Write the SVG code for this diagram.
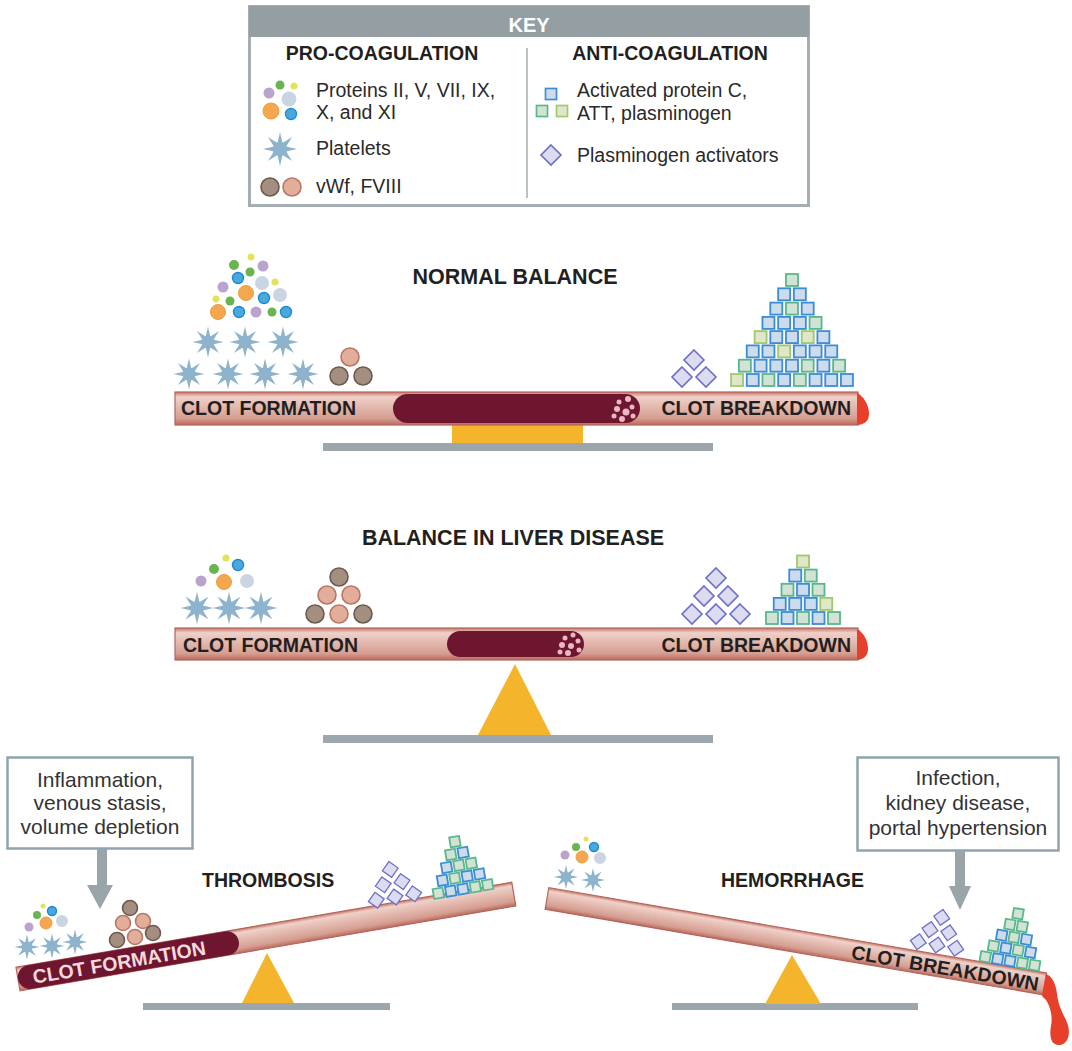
<svg xmlns="http://www.w3.org/2000/svg" width="1072" height="1051" viewBox="0 0 1072 1051">
<style>
text{font-family:"Liberation Sans",Arial,sans-serif;fill:#231f20}
.h{font-weight:bold;font-size:19.5px}
.t{font-size:19.5px;fill:#2a2a2a}
.bx{font-size:21px;fill:#333;text-anchor:middle}
.ttl{font-weight:bold;font-size:21.5px;text-anchor:middle}
.dy{fill:#e4e25a}
.dg{fill:#6ab44f}
.dp{fill:#bba3d0}
.db{fill:#4aa8df;stroke:#1e8bd0;stroke-width:1.4}
.do{fill:#f4a74f;stroke:#f09a3c;stroke-width:1}
.dl{fill:#c9d5e3}
.pl{fill:#8eb3cc}
.cd{fill:#a48e7f;stroke:#6c5a4d;stroke-width:1.6}
.cp{fill:#e3ad9c;stroke:#b87763;stroke-width:1.6}
.b{fill:#cddbea;stroke:#3a8dd7;stroke-width:1.8}
.g{fill:#d2e2d4;stroke:#58b88c;stroke-width:1.8}
.y{fill:#dfe6c9;stroke:#9fca6c;stroke-width:1.8}
.dm{fill:#dcdcf1;stroke:#6b70c6;stroke-width:1.6}
.beam{fill:url(#tube);stroke:#b5645a;stroke-width:1.2}
.clot{fill:#6e1530}
.cdot{fill:#e9b9c1}
.tip{fill:#e6402b}
.base{fill:#f4b52c}
.gnd{fill:#9ba7ac}
.box{fill:#fff;stroke:#8fa4ad;stroke-width:2.5}
.arr{fill:#9aa5aa}
</style>
<defs>
<linearGradient id="tube" x1="0" y1="0" x2="0" y2="1">
<stop offset="0" stop-color="#c4766a"/>
<stop offset="0.15" stop-color="#efd1c9"/>
<stop offset="0.4" stop-color="#e5bdb3"/>
<stop offset="0.8" stop-color="#d59e91"/>
<stop offset="1" stop-color="#bb6a5f"/>
</linearGradient>
<!-- platelet: eight-spiked star -->
<g id="plt">
<polygon points="0,-15.5 2.3,-5.54 10.96,-10.96 5.54,-2.3 15.5,0 5.54,2.3 10.96,10.96 2.3,5.54 0,15.5 -2.3,5.54 -10.96,10.96 -5.54,2.3 -15.5,0 -5.54,-2.3 -10.96,-10.96 -2.3,-5.54"/>
<circle r="6.5"/>
</g>
<rect id="sq" x="-6" y="-6" width="12" height="12"/>
<rect id="sqs" x="-5" y="-5" width="10" height="10"/>
<polygon id="dmd" points="0,-10 10,0 0,10 -10,0"/>
</defs>

<rect width="1072" height="1051" fill="#fff"/>

<!-- legend -->
<g id="key">
<rect x="249.5" y="6.5" width="559" height="199" fill="#fff" stroke="#a5aeb2" stroke-width="3"/>
<rect x="249" y="6" width="560" height="31" fill="#959ea3"/>
<text x="529" y="32" text-anchor="middle" style="font-weight:bold;font-size:20px;fill:#fff">KEY</text>
<line x1="527" y1="48" x2="527" y2="198" stroke="#a5aeb2" stroke-width="1.5"/>
<text class="h" x="382" y="60" text-anchor="middle">PRO-COAGULATION</text>
<text class="h" x="670" y="60" text-anchor="middle">ANTI-COAGULATION</text>
<circle class="dp" cx="269" cy="93" r="5.5"/>
<circle class="dg" cx="280" cy="85" r="4.5"/>
<circle class="dy" cx="294" cy="86" r="3.5"/>
<circle class="dl" cx="289" cy="99" r="7.5"/>
<circle class="do" cx="271" cy="111" r="8"/>
<circle class="db" cx="291" cy="114" r="5.5"/>
<text class="t" x="316" y="97">Proteins II, V, VII, IX,</text>
<text class="t" x="316" y="119">X, and XI</text>
<use href="#plt" class="pl" transform="translate(280,149) scale(1.1)"/>
<text class="t" x="316" y="155">Platelets</text>
<circle class="cd" cx="270" cy="187" r="9"/>
<circle class="cp" cx="292" cy="187" r="9"/>
<text class="t" x="316" y="193">vWf, FVIII</text>
<use href="#sq" class="b" transform="translate(551,94) scale(0.92)"/>
<use href="#sq" class="g" transform="translate(542,111) scale(0.92)"/>
<use href="#sq" class="y" transform="translate(562,111) scale(0.92)"/>
<text class="t" x="577" y="97">Activated protein C,</text>
<text class="t" x="577" y="120">ATT, plasminogen</text>
<use href="#dmd" class="dm" x="551" y="155"/>
<text class="t" x="577" y="162">Plasminogen activators</text>
</g>

<!-- normal balance -->
<g id="normal-balance">
<text class="ttl" x="515" y="284">NORMAL BALANCE</text>
<g id="nb-pro">
<circle class="dy" cx="251" cy="257" r="3.5"/>
<circle class="dg" cx="234" cy="265" r="5"/>
<circle class="dp" cx="263" cy="266" r="5.5"/>
<circle class="dg" cx="250" cy="272" r="4.5"/>
<circle class="db" cx="238" cy="278" r="5.5"/>
<circle class="dl" cx="262" cy="283" r="7"/>
<circle class="dy" cx="275" cy="282" r="3.5"/>
<circle class="dp" cx="223" cy="287" r="5.5"/>
<circle class="do" cx="246" cy="293" r="7.5"/>
<circle class="dl" cx="280" cy="295" r="7"/>
<circle class="db" cx="264" cy="298" r="5.5"/>
<circle class="dy" cx="216" cy="299" r="3.5"/>
<circle class="dg" cx="230" cy="301" r="4.5"/>
<circle class="do" cx="218" cy="312" r="7.5"/>
<circle class="db" cx="239" cy="312" r="5.5"/>
<circle class="dp" cx="256" cy="312" r="5.5"/>
<circle class="dg" cx="272" cy="312" r="4.5"/>
<circle class="db" cx="286" cy="312" r="5.5"/>
<use href="#plt" class="pl" transform="translate(208,342)"/>
<use href="#plt" class="pl" transform="translate(245,342)"/>
<use href="#plt" class="pl" transform="translate(283,342)"/>
<use href="#plt" class="pl" transform="translate(189,374)"/>
<use href="#plt" class="pl" transform="translate(228,374)"/>
<use href="#plt" class="pl" transform="translate(265,374)"/>
<use href="#plt" class="pl" transform="translate(303,374)"/>
<circle class="cp" cx="350" cy="357" r="9"/>
<circle class="cd" cx="339" cy="376" r="9"/>
<circle class="cd" cx="363" cy="376" r="9"/>
</g>
<g id="nb-anti">
<use href="#dmd" class="dm" x="694" y="360"/>
<use href="#dmd" class="dm" x="682" y="377"/>
<use href="#dmd" class="dm" x="706" y="377"/>
<use href="#sq" class="g" x="792" y="280"/>
<use href="#sq" class="b" x="784.15" y="294.3"/><use href="#sq" class="b" x="799.85" y="294.3"/>
<use href="#sq" class="b" x="776.3" y="308.6"/><use href="#sq" class="g" x="792" y="308.6"/><use href="#sq" class="b" x="807.7" y="308.6"/>
<use href="#sq" class="b" x="768.45" y="322.9"/><use href="#sq" class="b" x="784.15" y="322.9"/><use href="#sq" class="b" x="799.85" y="322.9"/><use href="#sq" class="g" x="815.55" y="322.9"/>
<use href="#sq" class="y" x="760.6" y="337.1"/><use href="#sq" class="b" x="776.3" y="337.1"/><use href="#sq" class="b" x="792" y="337.1"/><use href="#sq" class="y" x="807.7" y="337.1"/><use href="#sq" class="b" x="823.4" y="337.1"/>
<use href="#sq" class="b" x="752.75" y="351.4"/><use href="#sq" class="b" x="768.45" y="351.4"/><use href="#sq" class="y" x="784.15" y="351.4"/><use href="#sq" class="b" x="799.85" y="351.4"/><use href="#sq" class="b" x="815.55" y="351.4"/><use href="#sq" class="b" x="831.25" y="351.4"/>
<use href="#sq" class="g" x="744.9" y="365.7"/><use href="#sq" class="b" x="760.6" y="365.7"/><use href="#sq" class="b" x="776.3" y="365.7"/><use href="#sq" class="b" x="792" y="365.7"/><use href="#sq" class="g" x="807.7" y="365.7"/><use href="#sq" class="b" x="823.4" y="365.7"/><use href="#sq" class="g" x="839.1" y="365.7"/>
<use href="#sq" class="y" x="737.05" y="380"/><use href="#sq" class="b" x="752.75" y="380"/><use href="#sq" class="g" x="768.45" y="380"/><use href="#sq" class="b" x="784.15" y="380"/><use href="#sq" class="g" x="799.85" y="380"/><use href="#sq" class="b" x="815.55" y="380"/><use href="#sq" class="b" x="831.25" y="380"/><use href="#sq" class="b" x="846.95" y="380"/>
</g>
<rect class="gnd" x="323" y="443" width="390" height="8"/>
<rect class="base" x="452" y="424" width="131" height="19"/>
<rect class="beam" x="175" y="392" width="683" height="33"/>
<path class="tip" d="M857,393 C863,396 869,404 869,414 C869,421 864,425 857,425 Z"/>
<rect class="clot" x="393" y="394" width="247" height="29" rx="14.5"/>
<g class="cdot">
<circle cx="628" cy="399" r="3"/><circle cx="619" cy="402" r="2.5"/><circle cx="632" cy="407" r="2.5"/><circle cx="617" cy="409" r="3"/><circle cx="626" cy="412" r="3.5"/><circle cx="614" cy="416" r="2.5"/><circle cx="633" cy="416" r="2.5"/><circle cx="622" cy="419" r="3"/>
</g>
<text class="h" x="181" y="415">CLOT FORMATION</text>
<text class="h" x="851" y="415" text-anchor="end">CLOT BREAKDOWN</text>
</g>

<!-- balance in liver disease -->
<g id="liver-balance">
<text class="ttl" x="513" y="545">BALANCE IN LIVER DISEASE</text>
<g id="lb-pro">
<circle class="dy" cx="226" cy="558" r="3.5"/>
<circle class="dg" cx="214" cy="569" r="5"/>
<circle class="db" cx="238" cy="565" r="5.5"/>
<circle class="dp" cx="201" cy="581" r="5.5"/>
<circle class="do" cx="224" cy="582" r="7.5"/>
<circle class="dl" cx="247" cy="581" r="7"/>
<use href="#plt" class="pl" transform="translate(197,608) scale(1.05)"/>
<use href="#plt" class="pl" transform="translate(229,608) scale(1.05)"/>
<use href="#plt" class="pl" transform="translate(261,608) scale(1.05)"/>
<circle class="cd" cx="339" cy="577" r="9"/>
<circle class="cp" cx="327" cy="595" r="9"/>
<circle class="cp" cx="351" cy="595" r="9"/>
<circle class="cd" cx="315" cy="614" r="9"/>
<circle class="cp" cx="339" cy="614" r="9"/>
<circle class="cd" cx="363" cy="614" r="9"/>
</g>
<g id="lb-anti">
<use href="#dmd" class="dm" x="716" y="578"/>
<use href="#dmd" class="dm" x="704" y="596"/><use href="#dmd" class="dm" x="728" y="596"/>
<use href="#dmd" class="dm" x="692" y="614"/><use href="#dmd" class="dm" x="716" y="614"/><use href="#dmd" class="dm" x="740" y="614"/>
<use href="#sq" class="y" x="803" y="561.5"/>
<use href="#sq" class="b" x="795.25" y="575.6"/><use href="#sq" class="g" x="810.75" y="575.6"/>
<use href="#sq" class="g" x="787.5" y="589.8"/><use href="#sq" class="b" x="803" y="589.8"/><use href="#sq" class="g" x="818.5" y="589.8"/>
<use href="#sq" class="b" x="779.75" y="603.9"/><use href="#sq" class="b" x="795.25" y="603.9"/><use href="#sq" class="b" x="810.75" y="603.9"/><use href="#sq" class="y" x="826.25" y="603.9"/>
<use href="#sq" class="g" x="772" y="618"/><use href="#sq" class="b" x="787.5" y="618"/><use href="#sq" class="g" x="803" y="618"/><use href="#sq" class="b" x="818.5" y="618"/><use href="#sq" class="g" x="834" y="618"/>
</g>
<rect class="gnd" x="323" y="735" width="390" height="8"/>
<polygon class="base" points="515,664 478,735 551,735"/>
<rect class="beam" x="175" y="628" width="683" height="32"/>
<path class="tip" d="M857,629 C863,632 868,640 868,649 C868,656 863,660 857,660 Z"/>
<rect class="clot" x="447" y="631" width="137" height="26" rx="13"/>
<g class="cdot">
<circle cx="573" cy="635" r="2.5"/><circle cx="565" cy="638" r="2.5"/><circle cx="578" cy="641" r="2.5"/><circle cx="562" cy="645" r="3"/><circle cx="571" cy="646" r="3"/><circle cx="579" cy="650" r="2.5"/><circle cx="560" cy="652" r="2.5"/><circle cx="568" cy="653" r="3"/>
</g>
<text class="h" x="183" y="652">CLOT FORMATION</text>
<text class="h" x="851" y="652" text-anchor="end">CLOT BREAKDOWN</text>
</g>

<!-- thrombosis -->
<g id="thrombosis-causes">
<rect class="box" x="7.5" y="757.5" width="185" height="91"/>
<text class="bx" x="100" y="787">Inflammation,</text>
<text class="bx" x="100" y="810">venous stasis,</text>
<text class="bx" x="100" y="834">volume depletion</text>
</g>
<g id="thrombosis">
<text class="h" x="202" y="887">THROMBOSIS</text>
<rect class="gnd" x="143" y="1003" width="247" height="7"/>
<polygon class="base" points="267,953 242,1003 294,1003"/>
<g transform="translate(18,979) rotate(-9.72)">
<rect class="beam" x="0" y="-12" width="503" height="24"/>
<rect class="clot" x="0" y="-12" width="224" height="24" rx="12"/>
<text class="h" x="15" y="7.5" style="fill:#f4dadd">CLOT FORMATION</text>
</g>
<g id="th-pro">
<circle class="dy" cx="43" cy="906" r="2.5"/>
<circle class="dg" cx="37" cy="915" r="4"/>
<circle class="db" cx="52" cy="911" r="4.5"/>
<circle class="dp" cx="29" cy="927" r="4.5"/>
<circle class="do" cx="46" cy="923" r="6"/>
<circle class="dl" cx="62" cy="921" r="6"/>
<use href="#plt" class="pl" transform="translate(27,947) scale(0.8)"/>
<use href="#plt" class="pl" transform="translate(52,946) scale(0.8)"/>
<use href="#plt" class="pl" transform="translate(75,942) scale(0.8)"/>
<circle class="cd" cx="130" cy="908" r="7.5"/>
<circle class="cp" cx="123" cy="923" r="7.5"/>
<circle class="cp" cx="143" cy="921" r="7.5"/>
<circle class="cd" cx="117" cy="940" r="7.5"/>
<circle class="cp" cx="135" cy="937" r="7.5"/>
<circle class="cd" cx="153" cy="933" r="7.5"/>
</g>
<g id="th-anti">
<g transform="translate(395,897) rotate(-9.7)">
<use href="#dmd" class="dm" transform="translate(0,-28) scale(0.8)"/>
<use href="#dmd" class="dm" transform="translate(-9.5,-14) scale(0.8)"/>
<use href="#dmd" class="dm" transform="translate(9.5,-14) scale(0.8)"/>
<use href="#dmd" class="dm" transform="translate(-19,0) scale(0.8)"/>
<use href="#dmd" class="dm" transform="translate(0,0) scale(0.8)"/>
<use href="#dmd" class="dm" transform="translate(19,0) scale(0.8)"/>
</g>
<g transform="translate(463,889) rotate(-9.7)">
<use href="#sqs" class="g" x="0" y="-48"/>
<use href="#sqs" class="g" x="-6.25" y="-36"/><use href="#sqs" class="b" x="6.25" y="-36"/>
<use href="#sqs" class="b" x="-12.5" y="-24"/><use href="#sqs" class="g" x="0" y="-24"/><use href="#sqs" class="g" x="12.5" y="-24"/>
<use href="#sqs" class="b" x="-18.75" y="-12"/><use href="#sqs" class="g" x="-6.25" y="-12"/><use href="#sqs" class="b" x="6.25" y="-12"/><use href="#sqs" class="b" x="18.75" y="-12"/>
<use href="#sqs" class="g" x="-25" y="0"/><use href="#sqs" class="b" x="-12.5" y="0"/><use href="#sqs" class="b" x="0" y="0"/><use href="#sqs" class="g" x="12.5" y="0"/><use href="#sqs" class="g" x="25" y="0"/>
</g>
</g>
</g>

<!-- hemorrhage -->
<g id="hemorrhage-causes">
<rect class="box" x="857.5" y="757.5" width="201" height="93"/>
<text class="bx" x="958" y="785">Infection,</text>
<text class="bx" x="958" y="810">kidney disease,</text>
<text class="bx" x="958" y="835">portal hypertension</text>
</g>
<g id="hemorrhage">
<text class="h" x="721" y="887">HEMORRHAGE</text>
<rect class="gnd" x="672" y="1003" width="246" height="7"/>
<polygon class="base" points="792,955 765,1004 821,1004"/>
<g transform="translate(547,898.5) rotate(9.74)">
<rect class="beam" x="0" y="-11" width="505" height="22"/>
<text class="h" x="499" y="8" text-anchor="end">CLOT BREAKDOWN</text>
</g>
<path class="tip" d="M1046,974 C1052,976 1056,984 1057,994 C1058,1004 1062,1012 1066,1020 C1071,1030 1070,1043 1060,1045 C1051,1046 1049,1036 1051,1026 C1053,1016 1050,1006 1046,1000 L1042,996 Z"/>
<g id="hm-pro">
<circle class="dy" cx="586" cy="839" r="2.5"/>
<circle class="dg" cx="576" cy="847" r="4"/>
<circle class="db" cx="594" cy="847" r="4.5"/>
<circle class="dp" cx="565" cy="855" r="4.5"/>
<circle class="do" cx="582" cy="857" r="6"/>
<circle class="dl" cx="600" cy="858" r="6"/>
<use href="#plt" class="pl" transform="translate(566,877) scale(0.78)"/>
<use href="#plt" class="pl" transform="translate(593,880) scale(0.78)"/>
</g>
<g id="hm-anti">
<g transform="translate(937,945) rotate(9.7)">
<use href="#dmd" class="dm" transform="translate(0,-28) scale(0.8)"/>
<use href="#dmd" class="dm" transform="translate(-9.5,-14) scale(0.8)"/>
<use href="#dmd" class="dm" transform="translate(9.5,-14) scale(0.8)"/>
<use href="#dmd" class="dm" transform="translate(-19,0) scale(0.8)"/>
<use href="#dmd" class="dm" transform="translate(0,0) scale(0.8)"/>
<use href="#dmd" class="dm" transform="translate(19,0) scale(0.8)"/>
</g>
<g transform="translate(1010,961) rotate(9.7)">
<use href="#sqs" class="g" x="0" y="-48"/>
<use href="#sqs" class="g" x="-6.25" y="-36"/><use href="#sqs" class="g" x="6.25" y="-36"/>
<use href="#sqs" class="b" x="-12.5" y="-24"/><use href="#sqs" class="g" x="0" y="-24"/><use href="#sqs" class="b" x="12.5" y="-24"/>
<use href="#sqs" class="g" x="-18.75" y="-12"/><use href="#sqs" class="b" x="-6.25" y="-12"/><use href="#sqs" class="g" x="6.25" y="-12"/><use href="#sqs" class="b" x="18.75" y="-12"/>
<use href="#sqs" class="g" x="-25" y="0"/><use href="#sqs" class="b" x="-12.5" y="0"/><use href="#sqs" class="b" x="0" y="0"/><use href="#sqs" class="g" x="12.5" y="0"/><use href="#sqs" class="g" x="25" y="0"/>
</g>
</g>
</g>

<!-- arrows from cause boxes down onto the scales -->
<g id="connectors">
<path class="arr" d="M97,849 L107,849 L107,885 L113,885 L100,909 L87,885 L97,885 Z"/>
<path class="arr" d="M955,851 L965,851 L965,886 L971,886 L960,910 L949,886 L955,886 Z"/>
</g>
</svg>
